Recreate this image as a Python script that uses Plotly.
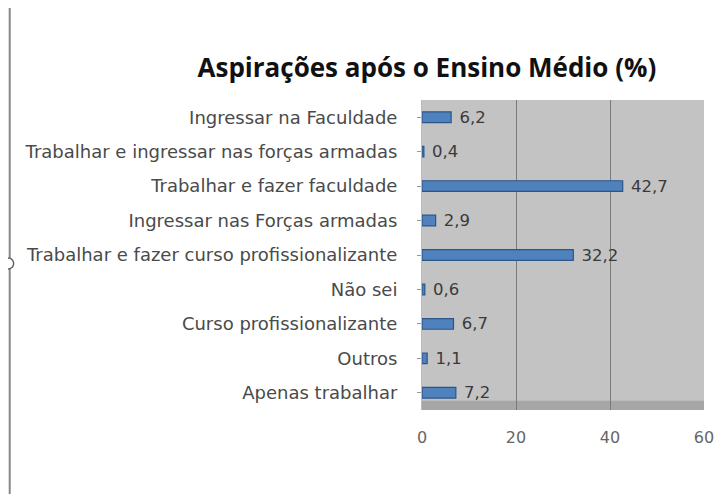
import plotly.graph_objects as go

categories = [
    "Apenas trabalhar",
    "Outros",
    "Curso profissionalizante",
    "Não sei",
    "Trabalhar e fazer curso profissionalizante",
    "Ingressar nas Forças armadas",
    "Trabalhar e fazer faculdade",
    "Trabalhar e ingressar nas forças armadas",
    "Ingressar na Faculdade",
]
values = [7.2, 1.1, 6.7, 0.6, 32.2, 2.9, 42.7, 0.4, 6.2]
value_labels = ["7,2", "1,1", "6,7", "0,6", "32,2", "2,9", "42,7", "0,4", "6,2"]
x_ticks = [0, 20, 40, 60]

FONT = "DejaVu Sans, sans-serif"
TITLE_FONT = "Open Sans, DejaVu Sans, sans-serif"

fig = go.Figure()
fig.add_trace(go.Bar(
    y=categories,
    x=values,
    orientation="h",
    marker=dict(color="#4f81bd", line=dict(color="#2c5588", width=1.2)),
    text=[" " + t for t in value_labels],
    textposition="outside",
    constraintext="none",
    textfont=dict(family=FONT, size=16.5, color="#3a3a3a"),
    cliponaxis=False,
    width=0.31,
))

# page has an 8px body margin, so the figure starts 8px right / down of the window
fig.update_layout(
    width=716, height=486,
    paper_bgcolor="white",
    plot_bgcolor="#c3c3c3",
    margin=dict(l=414, r=20, t=92, b=84),
    title=dict(
        text="<b>Aspirações após o Ensino Médio (%)</b>",
        x=0.585, xanchor="center", y=0.876, yanchor="middle",
        font=dict(family=TITLE_FONT, size=26, color="#111111"),
    ),
    showlegend=False,
    xaxis=dict(
        range=[0, 60], tickvals=x_ticks, ticktext=[str(v) for v in x_ticks],
        showgrid=True, gridcolor="#7a7a7a", gridwidth=1, zeroline=False,
        tickfont=dict(family=FONT, size=16, color="#666666"),
        ticks="", ticklabelstandoff=16, automargin=False,
    ),
    yaxis=dict(
        categoryorder="array", categoryarray=categories,
        tickfont=dict(family=FONT, size=18, color="#4a4a4a"),
        ticks="outside", ticklen=4, tickcolor="#999999",
        showline=True, linecolor="#bbbbbb", ticklabelstandoff=16,
        automargin=False,
    ),
    bargap=0.69,
)

# left border of the picture with its small handle
fig.add_shape(type="line", xref="paper", yref="paper",
              x0=-1.462, x1=-1.462, y0=-0.35, y1=1.35,
              line=dict(color="#888888", width=2))
fig.add_shape(type="circle", xref="paper", yref="paper",
              x0=-1.484, x1=-1.448, y0=0.455, y1=0.49,
              fillcolor="white", line=dict(color="#666666", width=1.5))
# 3D floor strip
fig.add_shape(type="rect", xref="x domain", yref="y domain",
              x0=0, x1=1, y0=0, y1=0.03, fillcolor="#a6a6a6", line=dict(width=0),
              layer="below")

fig.write_html("out.html")
